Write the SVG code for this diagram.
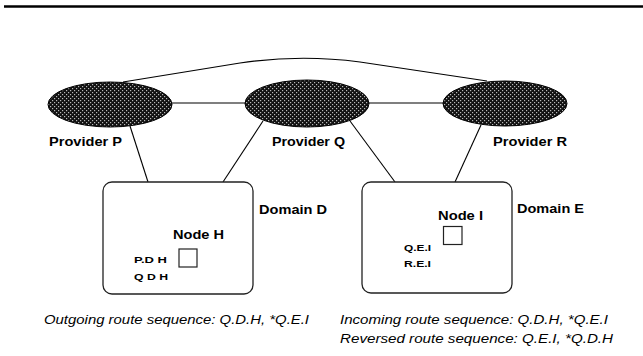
<svg xmlns="http://www.w3.org/2000/svg" width="643" height="356" viewBox="0 0 643 356">
<defs>
<pattern id="stip" patternUnits="userSpaceOnUse" width="4" height="4">
<rect width="4" height="4" fill="#111"/>
<rect x="0" y="0" width="1.2" height="1.2" fill="#b8b8b8"/>
<rect x="2" y="2" width="1.2" height="1.2" fill="#b8b8b8"/>
</pattern>
</defs>
<style>
.prov{fill:url(#stip);stroke:#000;stroke-width:1}
.dom{fill:#fff;stroke:#222;stroke-width:1.3}
.node{fill:#fff;stroke:#222;stroke-width:1.2}
.lbl{font-family:"Liberation Sans",Arial,sans-serif;font-weight:bold;fill:#000}
.sm{font-family:"Liberation Sans",Arial,sans-serif;font-weight:bold;fill:#000;font-size:9.5px}
.cap{font-family:"Liberation Sans",Arial,sans-serif;font-style:italic;fill:#000;font-size:12px}
.ln{stroke:#000;stroke-width:1.1;fill:none}
</style>
<rect width="643" height="356" fill="#fff"/>
<line x1="4" y1="6.5" x2="643" y2="6.5" stroke="#000" stroke-width="2.6"/>

<g id="connectors">
<path class="ln" d="M123,82 L240,63 Q300,54 360,62 L487,81"/>
<line class="ln" x1="171" y1="103" x2="246" y2="103"/>
<line class="ln" x1="368" y1="103" x2="444" y2="103"/>
<line class="ln" x1="130" y1="126" x2="148" y2="182"/>
<line class="ln" x1="263" y1="121" x2="223" y2="182"/>
<line class="ln" x1="350" y1="121" x2="395" y2="182"/>
<line class="ln" x1="481" y1="125" x2="455" y2="182"/>
</g>

<g id="providerP">
<ellipse class="prov" cx="110" cy="104.5" rx="62" ry="22.5"/>
<text class="lbl" x="49" y="145.5" font-size="13" textLength="73" lengthAdjust="spacingAndGlyphs">Provider P</text>
</g>
<g id="providerQ">
<ellipse class="prov" cx="307" cy="103.5" rx="62" ry="23.5"/>
<text class="lbl" x="272" y="145.5" font-size="13" textLength="73" lengthAdjust="spacingAndGlyphs">Provider Q</text>
</g>
<g id="providerR">
<ellipse class="prov" cx="505" cy="103.5" rx="62" ry="22.5"/>
<text class="lbl" x="493" y="145.5" font-size="13" textLength="74" lengthAdjust="spacingAndGlyphs">Provider R</text>
</g>

<g id="domainD">
<rect class="dom" x="103" y="182" width="150" height="112" rx="9"/>
<text class="lbl" x="259" y="214" font-size="13" textLength="68" lengthAdjust="spacingAndGlyphs">Domain D</text>
</g>
<g id="domainE">
<rect class="dom" x="362" y="182" width="150" height="111" rx="9"/>
<text class="lbl" x="517" y="213" font-size="13" textLength="67" lengthAdjust="spacingAndGlyphs">Domain E</text>
</g>

<g id="nodeH">
<text class="lbl" x="173" y="238.5" font-size="12.5" textLength="51" lengthAdjust="spacingAndGlyphs">Node H</text>
<rect class="node" x="179" y="249" width="18" height="18"/>
<text class="sm" x="134" y="262.5" textLength="33" lengthAdjust="spacingAndGlyphs">P.D H</text>
<text class="sm" x="134" y="280" textLength="34" lengthAdjust="spacingAndGlyphs">Q D H</text>
</g>
<g id="nodeI">
<text class="lbl" x="438" y="220" font-size="12.5" textLength="45" lengthAdjust="spacingAndGlyphs">Node I</text>
<rect class="node" x="443.5" y="226.5" width="18.5" height="18"/>
<text class="sm" x="404" y="251" textLength="27" lengthAdjust="spacingAndGlyphs">Q.E.I</text>
<text class="sm" x="404" y="266.5" textLength="27" lengthAdjust="spacingAndGlyphs">R.E.I</text>
</g>

<text class="cap" x="44" y="323.5" textLength="265" lengthAdjust="spacingAndGlyphs">Outgoing route sequence: Q.D.H, *Q.E.I</text>
<text class="cap" x="340" y="323.5" textLength="268" lengthAdjust="spacingAndGlyphs">Incoming route sequence: Q.D.H, *Q.E.I</text>
<text class="cap" x="340" y="343" textLength="273" lengthAdjust="spacingAndGlyphs">Reversed route sequence: Q.E.I,  *Q.D.H</text>
</svg>
